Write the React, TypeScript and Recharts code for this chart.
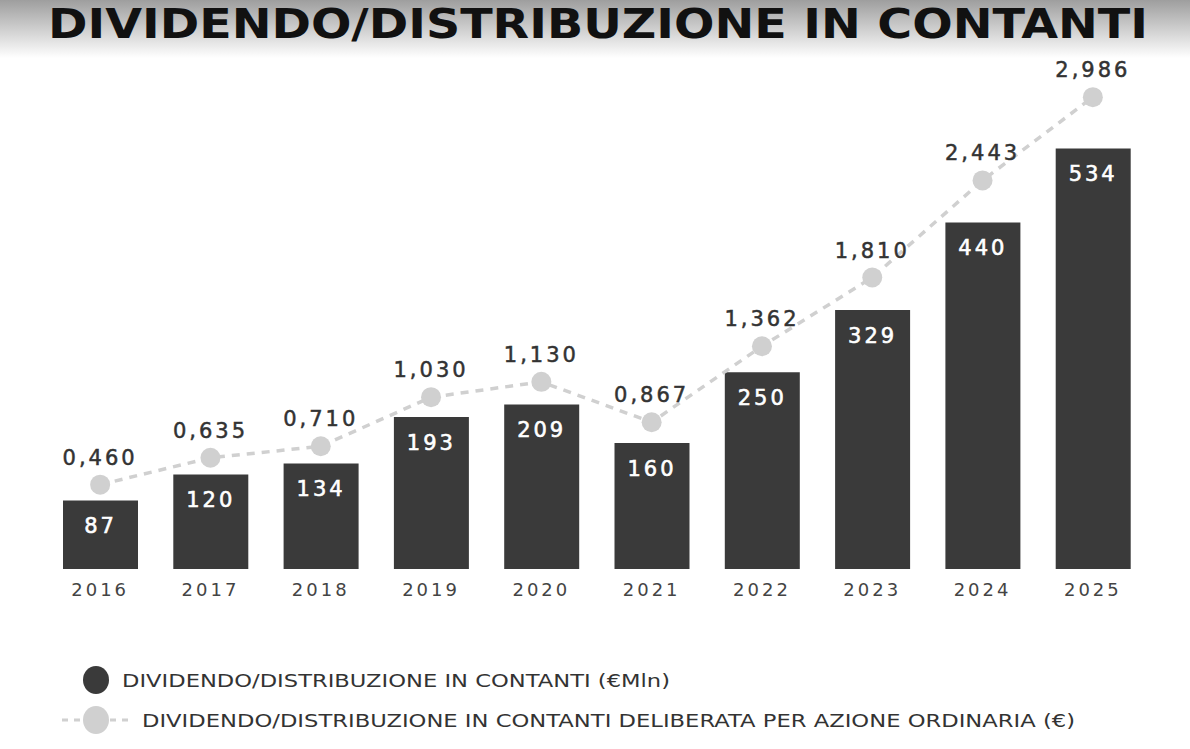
import React from 'react';
import { ComposedChart, Bar, Line, XAxis, YAxis, LabelList } from 'recharts';

const years = ['2016', '2017', '2018', '2019', '2020', '2021', '2022', '2023', '2024', '2025'];
const cashDividend = [87, 120, 134, 193, 209, 160, 250, 329, 440, 534];
const dividendPerShare = [0.46, 0.635, 0.71, 1.03, 1.13, 0.867, 1.362, 1.81, 2.443, 2.986];

const title = 'DIVIDENDO/DISTRIBUZIONE IN CONTANTI';
const legendBar = 'DIVIDENDO/DISTRIBUZIONE IN CONTANTI (€Mln)';
const legendLine = 'DIVIDENDO/DISTRIBUZIONE IN CONTANTI DELIBERATA PER AZIONE ORDINARIA (€)';

const data = years.map((y, i) => ({ year: y, cash: cashDividend[i], dps: dividendPerShare[i] }));

const BAR_COLOR = '#3a3a3a';
const LINE_COLOR = '#d0d0d0';
const FONT = '"DejaVu Sans", sans-serif';

const fmt = (v: any) => Number(v).toFixed(3).replace('.', ',');

export default function App() {
  return (
    <div style={{ position: 'absolute', left: 0, top: 0, width: 1190, height: 749, background: '#fff', fontFamily: FONT }}>
      <svg width={1190} height={749} style={{ position: 'absolute', left: 0, top: 0 }}>
        <defs>
          <linearGradient id="bg" x1="0" y1="0" x2="0" y2="1">
            <stop offset="0" stopColor="#9e9e9e" />
            <stop offset="1" stopColor="#ffffff" />
          </linearGradient>
        </defs>
        <rect x={0} y={0} width={1190} height={58} fill="url(#bg)" />
      </svg>
      <div style={{ position: 'absolute', left: 0, top: 0 }}>
        <ComposedChart width={1190} height={749} data={data} margin={{ top: 95, right: 42, bottom: 150, left: 45 }}>
          <XAxis
            dataKey="year"
            axisLine={false}
            tickLine={false}
            height={30}
            tickMargin={8}
            tick={{ fill: '#444', fontSize: 18, fontFamily: FONT, letterSpacing: 3 }}
          />
          <YAxis yAxisId="l" hide domain={[0, 602]} />
          <YAxis yAxisId="r" hide orientation="right" domain={[-0.09, 3.0]} />
          <Bar yAxisId="l" dataKey="cash" fill={BAR_COLOR} barSize={75} isAnimationActive={false}>
            <LabelList
              dataKey="cash"
              position="insideTop"
              offset={18}
              fill="#fff"
              style={{ fontSize: 21, fontFamily: FONT, letterSpacing: 3, stroke: '#fff', strokeWidth: 0.6 }}
            />
          </Bar>
          <Line
            yAxisId="r"
            dataKey="dps"
            type="linear"
            stroke={LINE_COLOR}
            strokeWidth={3.5}
            strokeDasharray="8 7"
            dot={{ r: 10, fill: LINE_COLOR, stroke: 'none' }}
            isAnimationActive={false}
          >
            <LabelList
              dataKey="dps"
              position="top"
              offset={20}
              fill="#333"
              formatter={fmt}
              style={{ fontSize: 21, fontFamily: FONT, letterSpacing: 3, stroke: '#333', strokeWidth: 0.5 }}
            />
          </Line>
        </ComposedChart>
      </div>
      <svg width={1190} height={749} style={{ position: 'absolute', left: 0, top: 0, pointerEvents: 'none' }}>
        <text x={48} y={38} fontFamily={FONT} fontWeight="bold" fontSize={40} fill="#111" textLength={1100} lengthAdjust="spacingAndGlyphs">
          {title}
        </text>
        <ellipse cx={96} cy={680} rx={13} ry={14} fill={BAR_COLOR} />
        <text x={122} y={687} fontFamily={FONT} fontSize={17} fill="#333" textLength={548} lengthAdjust="spacingAndGlyphs">
          {legendBar}
        </text>
        <line x1={62} y1={720} x2={132} y2={720} stroke={LINE_COLOR} strokeWidth={3} strokeDasharray="6 6" />
        <ellipse cx={96} cy={720} rx={13} ry={14} fill={LINE_COLOR} />
        <text x={142} y={727} fontFamily={FONT} fontSize={17} fill="#333" textLength={933} lengthAdjust="spacingAndGlyphs">
          {legendLine}
        </text>
      </svg>
    </div>
  );
}
